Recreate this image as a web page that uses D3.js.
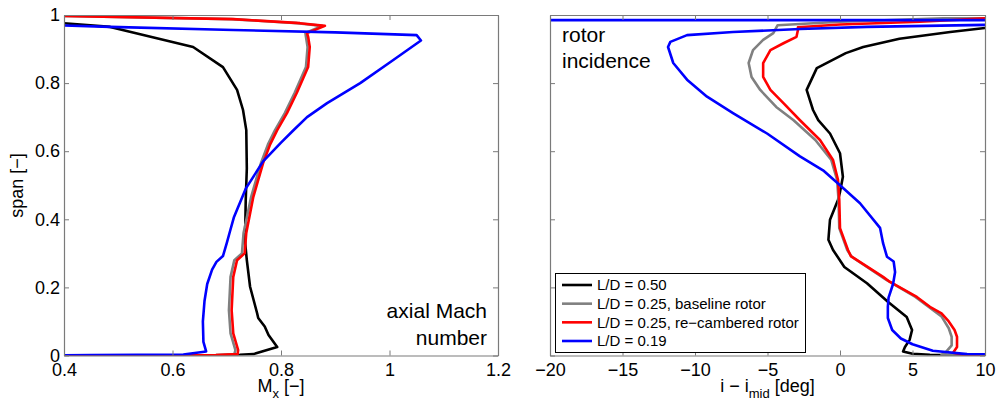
<!DOCTYPE html>
<html><head><meta charset="utf-8">
<script src="https://cdn.jsdelivr.net/npm/d3@7"></script>
<style>
html,body{margin:0;padding:0;background:#fff;}
svg text{font-family:"Liberation Sans",Arial,Helvetica,sans-serif;fill:#000;}
</style></head>
<body><svg id="chart" width="998" height="401"></svg>
<script>
// ---------- DATA ----------
const machTicks = [0.4, 0.6, 0.8, 1, 1.2];
const spanTicks = [0, 0.2, 0.4, 0.6, 0.8, 1];
const incTicks = [-20, -15, -10, -5, 0, 5, 10];

const seriesNames = ["L/D = 0.50", "L/D = 0.25, baseline rotor", "L/D = 0.25, re\u2212cambered rotor", "L/D = 0.19"];
const seriesColors = ["#000000", "#808080", "#ff0000", "#0000ff"];

// Left panel: axial Mach number [Mx, span]
const machLD050 = [[0,0],[0.70,0.001],[0.724,0.002],[0.749,0.004],[0.793,0.025],[0.777,0.06],[0.77,0.085],[0.758,0.11],[0.756,0.124],[0.743,0.202],[0.737,0.28],[0.734,0.33],[0.734,0.369],[0.735,0.457],[0.737,0.55],[0.736,0.662],[0.73,0.721],[0.719,0.78],[0.693,0.847],[0.638,0.906],[0.485,0.965],[0.40,0.976],[0,0.98]];
const machLD025base = [[0,0],[0.68,0.001],[0.714,0.004],[0.716,0.016],[0.707,0.065],[0.704,0.133],[0.707,0.231],[0.714,0.28],[0.728,0.30],[0.731,0.36],[0.745,0.466],[0.763,0.565],[0.776,0.62],[0.789,0.662],[0.807,0.712],[0.825,0.771],[0.846,0.847],[0.849,0.906],[0.846,0.936],[0.845,0.947],[0.876,0.968],[0.83,0.976],[0.708,0.988],[0.40,0.997],[0,1.0]];
const machLD025recamb = [[0,0],[0.68,0.001],[0.72,0.004],[0.721,0.016],[0.712,0.065],[0.709,0.133],[0.712,0.231],[0.719,0.28],[0.733,0.30],[0.736,0.36],[0.749,0.466],[0.767,0.565],[0.78,0.62],[0.793,0.662],[0.811,0.712],[0.829,0.771],[0.85,0.847],[0.853,0.906],[0.85,0.936],[0.848,0.947],[0.881,0.968],[0.835,0.976],[0.712,0.988],[0.40,0.997],[0,1.0]];
const machLD019 = [[0,0],[0.45,0.001],[0.62,0.003],[0.662,0.012],[0.657,0.04],[0.656,0.10],[0.659,0.16],[0.664,0.21],[0.673,0.252],[0.681,0.275],[0.693,0.292],[0.70,0.33],[0.706,0.365],[0.713,0.405],[0.735,0.49],[0.767,0.57],[0.80,0.625],[0.822,0.66],[0.848,0.70],[0.885,0.741],[0.946,0.80],[1.007,0.868],[1.058,0.925],[1.05,0.941],[0.90,0.949],[0.712,0.956],[0.485,0.965],[0.40,0.969],[0,0.975]];

// Right panel: rotor incidence i - i_mid [deg, span]
const incLD050 = [[30,0],[6.2,0.002],[5.0,0.005],[4.35,0.012],[4.48,0.025],[4.8,0.046],[4.97,0.075],[4.6,0.113],[3.3,0.158],[1.86,0.212],[0.3,0.26],[-0.48,0.31],[-0.8,0.34],[-0.69,0.399],[-0.3,0.44],[-0.14,0.457],[0,0.48],[0.2,0.525],[0,0.594],[-0.69,0.652],[-1.5,0.691],[-1.86,0.721],[-2.3,0.78],[-1.6,0.844],[0.4,0.888],[1.6,0.906],[4.1,0.93],[7.6,0.95],[10,0.962],[30,0.975]];
const incLD025base = [[30,0],[7.0,0.002],[7.3,0.01],[7.7,0.03],[7.7,0.055],[7.5,0.08],[7.0,0.115],[6.1,0.143],[5.2,0.172],[3.2,0.222],[0.8,0.29],[0.5,0.31],[-0.05,0.374],[-0.1,0.457],[-0.2,0.516],[-0.6,0.574],[-1.7,0.633],[-3.2,0.691],[-4.4,0.73],[-5.5,0.78],[-6.1,0.818],[-6.3,0.859],[-6.0,0.897],[-5.3,0.927],[-4.6,0.947],[-4.3,0.97],[0,0.98],[7.1,0.99],[30,0.995]];
const incLD025recamb = [[30,0],[8.5,0.002],[7.8,0.008],[8.07,0.025],[8.07,0.055],[7.9,0.075],[7.5,0.10],[7.0,0.124],[6.2,0.143],[5.3,0.172],[3.45,0.216],[2.97,0.231],[0.75,0.292],[0.55,0.31],[0,0.374],[-0.05,0.457],[-0.14,0.516],[-0.48,0.574],[-1.38,0.633],[-2.76,0.691],[-3.9,0.741],[-4.8,0.78],[-5.3,0.818],[-5.3,0.859],[-4.8,0.897],[-3.9,0.917],[-3.0,0.936],[-2.9,0.956],[-2.9,0.964],[0,0.972],[5.5,0.98],[10,0.99],[30,0.995]];
const incLD019 = [[30,0],[8.76,0.004],[6.4,0.014],[5.0,0.033],[4.2,0.05],[3.6,0.075],[3.3,0.11],[3.3,0.143],[3.35,0.17],[3.66,0.21],[3.8,0.245],[3.7,0.276],[3.24,0.29],[2.97,0.33],[2.76,0.375],[1.38,0.447],[0,0.5],[-1.17,0.544],[-2.76,0.585],[-5.03,0.652],[-7.38,0.712],[-9.17,0.76],[-10.55,0.81],[-11.5,0.859],[-11.86,0.906],[-11.7,0.921],[-10.55,0.941],[-7.38,0.95],[-2.76,0.959],[1.86,0.965],[10,0.971],[12,0.972],[12,0.985],[-25,0.985]];

const machSeries = [machLD050, machLD025base, machLD025recamb, machLD019];
const incSeries = [incLD050, incLD025base, incLD025recamb, incLD019];

// ---------- DRAW ----------
const svg = d3.select("#chart");
const yTop = 15, yBottom = 355.5;
const frameColor = "#7a7a7a";
const fmt = d => d < 0 ? "\u2212" + Math.abs(d) : String(d);

function panel(id, x0, x1, xDomain, xTicks, series, showYLabels) {
  const x = d3.scaleLinear().domain(xDomain).range([x0, x1]);
  const y = d3.scaleLinear().domain([0, 1]).range([yBottom, yTop]);
  const g = svg.append("g");

  g.append("clipPath").attr("id", id).append("rect")
    .attr("x", x0).attr("y", yTop).attr("width", x1 - x0).attr("height", yBottom - yTop);

  const line = d3.line().x(d => x(d[0])).y(d => y(d[1]));
  const lg = g.append("g").attr("clip-path", `url(#${id})`);
  series.forEach((s, i) => {
    lg.append("path").datum(s).attr("d", line)
      .attr("fill", "none").attr("stroke", seriesColors[i])
      .attr("stroke-width", 2.6).attr("stroke-linejoin", "round");
  });

  const axB = g.append("g").attr("transform", `translate(0,${yBottom})`)
    .call(d3.axisBottom(x).tickValues(xTicks).tickFormat(fmt).tickSize(-5).tickSizeOuter(0).tickPadding(8));
  const axT = g.append("g").attr("transform", `translate(0,${yTop})`)
    .call(d3.axisTop(x).tickValues(xTicks).tickFormat("").tickSize(-5).tickSizeOuter(0));
  const axL = g.append("g").attr("transform", `translate(${x0},0)`)
    .call(d3.axisLeft(y).tickValues(spanTicks).tickFormat(showYLabels ? fmt : "").tickSize(-5).tickSizeOuter(0).tickPadding(4));
  const axR = g.append("g").attr("transform", `translate(${x1},0)`)
    .call(d3.axisRight(y).tickValues(spanTicks).tickFormat("").tickSize(-5).tickSizeOuter(0));
  [axB, axT, axL, axR].forEach(a => {
    a.selectAll("path.domain").attr("stroke", frameColor).attr("stroke-width", 1.2);
    a.selectAll(".tick line").attr("stroke", frameColor).attr("stroke-width", 1);
    a.selectAll(".tick text").attr("font-size", 18).attr("font-family", '"Liberation Sans",Arial,sans-serif').attr("fill", "#000");
  });
  return { x, y, g };
}

panel("clipL", 64, 498, [0.4, 1.2], machTicks, machSeries, true);
panel("clipR", 550, 985, [-20, 10], incTicks, incSeries, false);

// Axis labels
svg.append("text").attr("transform", "translate(23,185.5) rotate(-90)")
  .attr("text-anchor", "middle").attr("font-size", 18).text("span [\u2212]");

const xl = svg.append("text").attr("x", 281).attr("y", 392).attr("text-anchor", "middle").attr("font-size", 18);
xl.append("tspan").text("M");
xl.append("tspan").attr("font-size", 13).attr("dy", 6).text("x");
xl.append("tspan").attr("dy", -6).text(" [\u2212]");

const xr = svg.append("text").attr("x", 767.5).attr("y", 392).attr("text-anchor", "middle").attr("font-size", 18);
xr.append("tspan").text("i \u2212 i");
xr.append("tspan").attr("font-size", 13).attr("dy", 6).text("mid");
xr.append("tspan").attr("dy", -6).text(" [deg]");

// Annotations
svg.append("text").attr("x", 487).attr("y", 318).attr("text-anchor", "end").attr("font-size", 21).text("axial Mach");
svg.append("text").attr("x", 487).attr("y", 345).attr("text-anchor", "end").attr("font-size", 21).text("number");
svg.append("text").attr("x", 562).attr("y", 42).attr("font-size", 21).text("rotor");
svg.append("text").attr("x", 562).attr("y", 68).attr("font-size", 21).text("incidence");

// Legend
const leg = svg.append("g");
leg.append("rect").attr("x", 555.5).attr("y", 273.5).attr("width", 250).attr("height", 79)
  .attr("fill", "#fff").attr("stroke", "#000").attr("stroke-width", 1);
const legY = d3.scalePoint().domain(seriesNames).range([285, 341]);
seriesNames.forEach((n, i) => {
  leg.append("line").attr("x1", 562).attr("x2", 592).attr("y1", legY(n)).attr("y2", legY(n))
    .attr("stroke", seriesColors[i]).attr("stroke-width", 2.6);
  leg.append("text").attr("x", 597).attr("y", legY(n)).attr("dy", "0.36em").attr("font-size", 15).text(n);
});
</script></body></html>
